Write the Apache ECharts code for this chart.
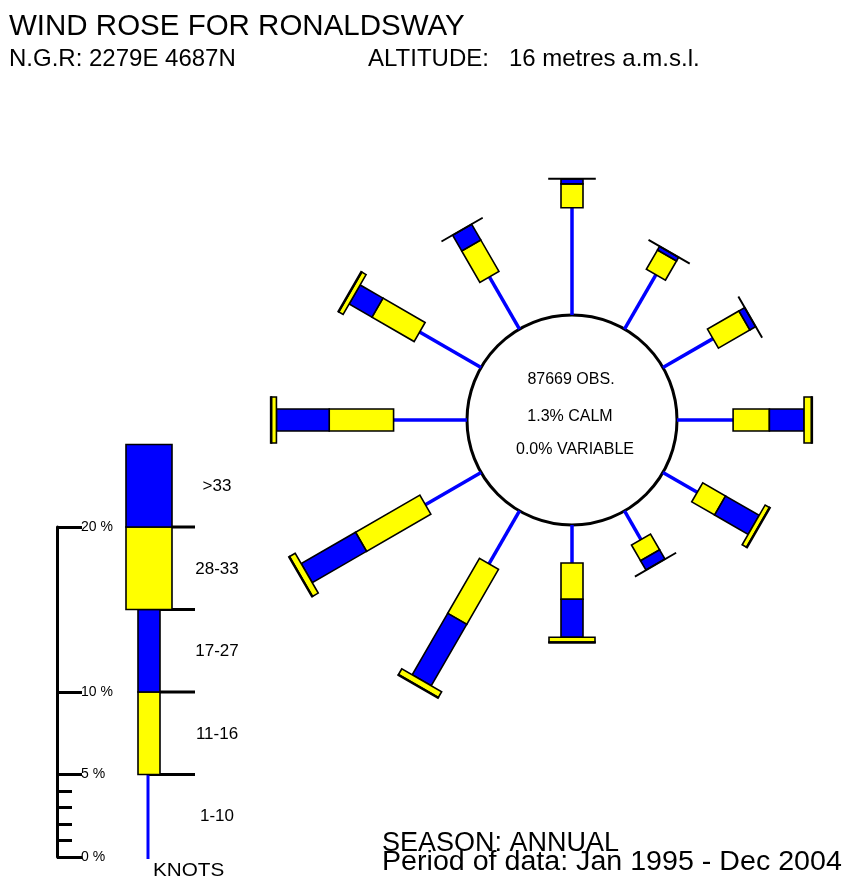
<!DOCTYPE html>
<html>
<head>
<meta charset="utf-8">
<script src="https://cdn.jsdelivr.net/npm/echarts@6/dist/echarts.min.js"></script>
<style>html,body{margin:0;padding:0;background:#fff}#c{width:848px;height:879px}</style>
</head>
<body>
<div id="c"></div>
<script>
// ---------- DATA ----------
const directions   = [0, 30, 60, 90, 120, 150, 180, 210, 240, 270, 300, 330];
const pct1to10     = [6.5, 3.8, 3.5, 3.4, 2.4, 2.0, 2.3, 3.7, 3.9, 4.45, 4.3, 3.65];
const pct11to16    = [1.45, 1.35, 2.2, 2.2, 1.6, 1.1, 2.2, 3.85, 4.5, 3.9, 2.95, 2.2];
const pct17to27    = [0.3, 0.25, 0.4, 2.1, 2.35, 0.65, 2.3, 4.3, 3.8, 3.2, 1.6, 1.1];
const pct28to33    = [0.02, 0.02, 0.02, 0.45, 0.3, 0.02, 0.3, 0.4, 0.4, 0.3, 0.3, 0.02];
const pctOver33    = [0, 0, 0, 0.05, 0.05, 0, 0.05, 0.05, 0.05, 0.05, 0.05, 0];
const observations = 87669;
const calmPct      = 1.3;
const variablePct  = 0.0;
const legendBands  = ['1-10', '11-16', '17-27', '28-33', '>33'];
const legendBandPct = [5, 5, 5, 5, 5];
const scaleMajorTicks = [0, 5, 10, 20];
const scaleMinorTicks = [1, 2, 3, 4];
const scaleMax = 20;

// ---------- STYLE ----------
const BLUE = '#0000ff', YELLOW = '#ffff00', BLACK = '#000000';
const FONT = '"Liberation Sans", Arial, sans-serif';
const PX_PER_PCT = 16.5;
const CIRCLE_R = 105;
const CENTER = [572, 420];
const RMAX = 15;
const BAND_HALF_W = [0, 11, 11, 23, 23];
const BAND_FILL = [BLUE, YELLOW, BLUE, YELLOW, BLUE];

const bandArrays = [pct1to10, pct11to16, pct17to27, pct28to33, pctOver33];
const armData = directions.map((d, i) => {
  const vals = bandArrays.map(a => a[i]);
  const total = vals.reduce((s, v) => s + v, 0);
  return [total, d].concat(vals);
});

function rectPoly(a, e, nx, ny, hw) {
  return [[a[0] + nx * hw, a[1] + ny * hw], [e[0] + nx * hw, e[1] + ny * hw],
          [e[0] - nx * hw, e[1] - ny * hw], [a[0] - nx * hw, a[1] - ny * hw]];
}

function renderArm(params, api) {
  const angle = api.value(1);
  const o = api.coord([0, angle]);
  const f = api.coord([RMAX, angle]);
  const len = Math.hypot(f[0] - o[0], f[1] - o[1]);
  const ux = (f[0] - o[0]) / len, uy = (f[1] - o[1]) / len;
  const nx = -uy, ny = ux;
  const children = [];
  let cum = 0;
  for (let b = 0; b < 5; b++) {
    const v = api.value(2 + b);
    const a = api.coord([cum, angle]);
    cum += v;
    const e = api.coord([cum, angle]);
    if (v <= 0) continue;
    if (b === 0) {
      children.push({type: 'line', shape: {x1: a[0], y1: a[1], x2: e[0], y2: e[1]},
        style: {stroke: BLUE, lineWidth: 3.5}});
    } else {
      children.push({type: 'polygon', shape: {points: rectPoly(a, e, nx, ny, BAND_HALF_W[b])},
        style: {fill: BAND_FILL[b], stroke: BLACK, lineWidth: 1.6}});
    }
  }
  return {type: 'group', children};
}

const legendData = legendBandPct.map((v, i) => {
  const lo = legendBandPct.slice(0, i).reduce((s, x) => s + x, 0);
  return [0.5, lo, lo + v, i];
});

function renderLegend(params, api) {
  const lo = api.value(1), hi = api.value(2), b = api.value(3);
  const a = api.coord([0.5, lo]);
  const e = api.coord([0.5, hi]);
  const children = [];
  if (b < 4) {
    children.push({type: 'line', shape: {x1: e[0], y1: e[1], x2: e[0] + 46, y2: e[1]},
      style: {stroke: BLACK, lineWidth: 3}});
  }
  if (b === 0) {
    children.push({type: 'line', shape: {x1: a[0] - 1, y1: a[1] + 2, x2: e[0] - 1, y2: e[1]},
      style: {stroke: BLUE, lineWidth: 3}});
  } else {
    const hw = BAND_HALF_W[b];
    children.push({type: 'rect', shape: {x: e[0] - hw, y: e[1], width: hw * 2, height: a[1] - e[1]},
      style: {fill: BAND_FILL[b], stroke: BLACK, lineWidth: 1.6}});
  }
  children.push({type: 'text', x: e[0] + 68, y: (a[1] + e[1]) / 2 + 1,
    style: {text: legendBands[b], fill: BLACK, font: '17px ' + FONT,
      textAlign: 'center', textVerticalAlign: 'middle', verticalAlign: 'middle'}});
  return {type: 'group', children};
}

const scaleCats = [];
for (let i = 0; i <= scaleMax; i++) scaleCats.push(String(i));

function txt(text, x, y, size, align, scaleX) {
  return {type: 'text', x: x, y: y, scaleX: scaleX || 1, originX: 0, originY: 0,
    style: {text: text, fill: BLACK, font: size + 'px ' + FONT,
      textAlign: align || 'left', textVerticalAlign: 'middle', verticalAlign: 'middle'}};
}

const option = {
  animation: false,
  backgroundColor: '#ffffff',
  polar: [
    {center: CENTER, radius: CIRCLE_R + RMAX * PX_PER_PCT},
    {center: CENTER, radius: CIRCLE_R}
  ],
  angleAxis: [
    {polarIndex: 0, type: 'value', min: 0, max: 360, startAngle: 90, clockwise: true, show: false},
    {polarIndex: 1, type: 'value', min: 0, max: 360, startAngle: 90, clockwise: true,
      axisLine: {show: true, lineStyle: {color: BLACK, width: 3}},
      axisTick: {show: false}, axisLabel: {show: false}, splitLine: {show: false}}
  ],
  radiusAxis: [
    {polarIndex: 0, type: 'value', min: -CIRCLE_R / PX_PER_PCT, max: RMAX, show: false},
    {polarIndex: 1, type: 'value', min: 0, max: 1, show: false}
  ],
  grid: [
    {left: 100, width: 98, top: 857 - 25 * PX_PER_PCT, height: 25 * PX_PER_PCT},
    {left: 57, width: 20, top: 857 - scaleMax * PX_PER_PCT, height: scaleMax * PX_PER_PCT},
    {left: 57, width: 20, top: 857 - scaleMax * PX_PER_PCT, height: scaleMax * PX_PER_PCT}
  ],
  xAxis: [
    {gridIndex: 0, type: 'value', min: 0, max: 1, show: false},
    {gridIndex: 1, type: 'value', min: 0, max: 1, show: false},
    {gridIndex: 2, type: 'value', min: 0, max: 1, show: false}
  ],
  yAxis: [
    {gridIndex: 0, type: 'value', min: 0, max: 25, show: false},
    {gridIndex: 1, type: 'category', data: scaleCats, boundaryGap: false, position: 'left',
      axisLine: {show: true, lineStyle: {color: BLACK, width: 3}},
      axisTick: {show: true, inside: true, length: 15, lineStyle: {color: BLACK, width: 3},
        interval: (idx, val) => scaleMinorTicks.indexOf(Number(val)) >= 0},
      axisLabel: {show: false}, splitLine: {show: false}},
    {gridIndex: 2, type: 'category', data: scaleCats, boundaryGap: false, position: 'left',
      axisLine: {show: false},
      axisTick: {show: true, inside: true, length: 25, lineStyle: {color: BLACK, width: 3},
        interval: (idx, val) => scaleMajorTicks.indexOf(Number(val)) >= 0},
      axisLabel: {show: true, inside: true, margin: 24, fontSize: 14, fontFamily: FONT, color: BLACK,
        interval: (idx, val) => scaleMajorTicks.indexOf(Number(val)) >= 0,
        formatter: v => v + ' %'},
      splitLine: {show: false}}
  ],
  series: [
    {type: 'custom', coordinateSystem: 'polar', polarIndex: 0, data: armData,
      encode: {radius: 0, angle: 1}, renderItem: renderArm, z: 3},
    {type: 'custom', coordinateSystem: 'cartesian2d', xAxisIndex: 0, yAxisIndex: 0,
      data: legendData, encode: {x: 0, y: [1, 2]}, renderItem: renderLegend, z: 3}
  ],
  graphic: [
    txt('WIND ROSE FOR RONALDSWAY', 9, 26.5, 29.5),
    txt('N.G.R: 2279E 4687N', 9, 59, 24),
    txt('ALTITUDE:   16 metres a.m.s.l.', 368, 59, 24),
    txt(observations + ' OBS.', 571, 380, 16, 'center'),
    txt(calmPct.toFixed(1) + '% CALM', 570, 417, 16, 'center'),
    txt(variablePct.toFixed(1) + '% VARIABLE', 575, 450, 16, 'center'),
    txt('KNOTS', 153, 871, 18, 'left', 1.15),
    txt('SEASON: ANNUAL', 382, 844, 27),
    txt('Period of data: Jan 1995 - Dec 2004', 382, 863, 27, 'left', 1.06)
  ]
};

const chart = echarts.init(document.getElementById('c'), null, {renderer: 'canvas'});
chart.setOption(option);
</script>
</body>
</html>
